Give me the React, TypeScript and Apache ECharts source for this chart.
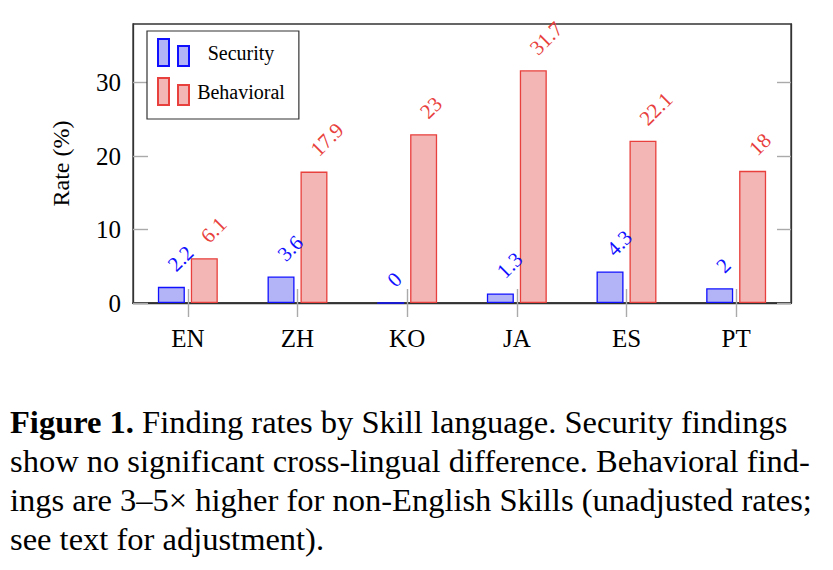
import { useRef, useEffect } from "react";
import * as echarts from "echarts";

const languages = ["EN", "ZH", "KO", "JA", "ES", "PT"];
const securityRates = [2.2, 3.6, 0, 1.3, 4.3, 2];
const behavioralRates = [6.1, 17.9, 23, 31.7, 22.1, 18];
const yTicks = [0, 10, 20, 30];

const captionLines = [
  "{b|Figure 1.} Finding rates by Skill language. Security findings",
  "show no significant cross-lingual difference. Behavioral find-",
  "ings are 3–5× higher for non-English Skills (unadjusted rates;",
  "see text for adjustment).",
];

const FONT = "'Liberation Serif', 'Times New Roman', serif";
const TICK = { color: "#aaaaaa", width: 1.4 };
const FRAME = "#333";

const BLUE = "#1010ff";
const BLUE_FILL = "#b3b3f7";
const RED = "#e8403c";
const RED_FILL = "#f4b5b5";

const legendIcon = "path://M0,0L11,0L11,27L0,27Z M20,7L31,7L31,27L20,27Z";

const barLabel = (color: string) => ({
  show: true,
  position: "top",
  rotate: 45,
  align: "left",
  verticalAlign: "middle",
  distance: 19,
  color,
  fontSize: 21,
  fontFamily: FONT,
});

const option = {
  animation: false,
  textStyle: { fontFamily: FONT },
  grid: {
    left: 133,
    right: 42,
    top: 24,
    bottom: 267,
    show: true,
    borderColor: FRAME,
    borderWidth: 1.3,
  },
  legend: {
    data: ["Security", "Behavioral"],
    orient: "vertical",
    left: 147,
    top: 31,
    backgroundColor: "#fff",
    borderColor: FRAME,
    borderWidth: 1.2,
    padding: [7, 14, 13, 10],
    itemWidth: 31,
    itemHeight: 27,
    itemGap: 10,
    icon: legendIcon,
    formatter: "{a|{name}}",
    textStyle: {
      fontFamily: FONT,
      rich: {
        a: { width: 94, align: "center", fontSize: 20, fontFamily: FONT, color: "#000" },
      },
    },
  },
  xAxis: [
    {
      type: "category",
      data: languages,
      position: "bottom",
      axisLine: { lineStyle: { color: FRAME, width: 1.6 } },
      axisTick: { show: true, alignWithLabel: true, length: 14, lineStyle: TICK },
      axisLabel: { color: "#000", fontSize: 25, fontFamily: FONT, margin: 23 },
    },
    {
      type: "category",
      data: languages,
      position: "top",
      axisLine: { lineStyle: { color: FRAME, width: 1.3 } },
      axisTick: { show: true, alignWithLabel: true, length: 14, lineStyle: TICK },
      axisLabel: { show: false },
    },
  ],
  yAxis: [
    {
      type: "value",
      min: 0,
      max: 38,
      interval: 10,
      name: "Rate (%)",
      nameLocation: "middle",
      nameRotate: 90,
      nameGap: 60,
      nameTextStyle: { color: "#000", fontSize: 24, fontFamily: FONT },
      splitLine: { show: false },
      axisLine: { show: true, lineStyle: { color: FRAME, width: 1.3 } },
      axisTick: { show: true, inside: true, length: 15, lineStyle: TICK, customValues: yTicks },
      axisLabel: { color: "#000", fontSize: 25, fontFamily: FONT, margin: 12, customValues: yTicks },
    },
    {
      type: "value",
      min: 0,
      max: 38,
      interval: 10,
      position: "right",
      splitLine: { show: false },
      axisLine: { show: true, lineStyle: { color: FRAME, width: 1.3 } },
      axisTick: { show: true, inside: true, length: 14, lineStyle: TICK, customValues: yTicks },
      axisLabel: { show: false },
    },
  ],
  series: [
    {
      name: "Security",
      type: "bar",
      data: securityRates,
      barWidth: 27,
      barGap: "22%",
      itemStyle: { color: BLUE_FILL, borderColor: BLUE, borderWidth: 1.3 },
      label: barLabel(BLUE),
    },
    {
      name: "Behavioral",
      type: "bar",
      data: behavioralRates,
      barWidth: 27,
      barGap: "22%",
      itemStyle: { color: RED_FILL, borderColor: RED, borderWidth: 1.3 },
      label: barLabel(RED),
    },
  ],
  graphic: captionLines.map((line, i) => ({
    type: "text",
    left: 10,
    top: 405 + i * 39,
    style: {
      text: line,
      fill: "#000",
      fontSize: 32.5,
      fontFamily: FONT,
      rich: {
        b: { fontWeight: "bold", fontSize: 32.5, fontFamily: FONT, fill: "#000" },
      },
    },
  })),
};

const App = () => {
  const chartRef = useRef<HTMLDivElement>(null);

  useEffect(() => {
    const myChart = echarts.init(chartRef.current, null, { renderer: "svg" });
    myChart.setOption(option);
    return () => {
      myChart.dispose();
    };
  }, []);

  return (
    <div
      ref={chartRef}
      style={{ position: "absolute", left: 0, top: 0, width: "833px", height: "570px", background: "#fff" }}
    ></div>
  );
};

export default App;
